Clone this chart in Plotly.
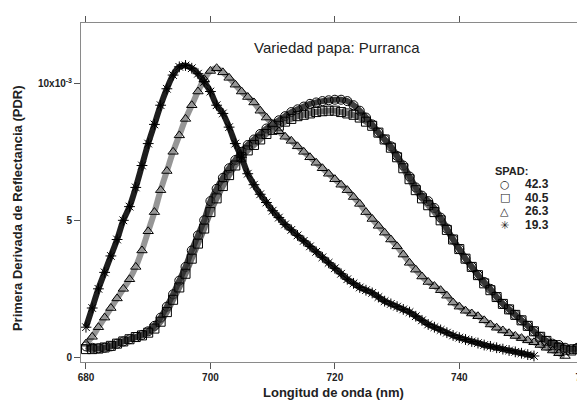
import plotly.graph_objects as go

# Wavelength (nm), 1 nm steps
wl = list(range(680, 761))

# First derivative of reflectance, in units of 1e-3
spad_42_3 = [0.4, 0.35, 0.33, 0.35, 0.4, 0.5, 0.58, 0.66, 0.74, 0.82,
             0.95, 1.15, 1.45, 1.85, 2.3, 2.8, 3.3, 3.9, 4.45, 5.0,
             5.7, 6.15, 6.55, 6.9, 7.2, 7.5, 7.75, 7.95, 8.15, 8.35,
             8.5, 8.65, 8.8, 8.95, 9.05, 9.15, 9.25, 9.3, 9.35, 9.38,
             9.4, 9.4, 9.35, 9.2, 9.0, 8.75, 8.5, 8.2, 7.95, 7.7,
             7.35, 7.0, 6.6, 6.2, 5.9, 5.7, 5.45, 5.1, 4.7, 4.3,
             3.95, 3.6, 3.3, 3.0, 2.75, 2.5, 2.2, 1.95, 1.75, 1.55,
             1.35, 1.15, 0.95, 0.75, 0.6, 0.5, 0.45, 0.35, 0.3, 0.35,
             0.45]

spad_40_5 = [0.3, 0.3, 0.32, 0.36, 0.42, 0.5, 0.58, 0.66, 0.74, 0.8,
             0.9, 1.05, 1.3, 1.65, 2.1, 2.55, 3.05, 3.6, 4.15, 4.7,
             5.3, 5.8, 6.25, 6.65, 7.0, 7.3, 7.55, 7.75, 7.95, 8.15,
             8.3, 8.45, 8.6, 8.7, 8.8, 8.85, 8.9, 8.95, 8.98, 9.0,
             9.0, 8.95, 8.9, 8.85, 8.75, 8.6, 8.45, 8.2, 7.95, 7.65,
             7.3, 6.9, 6.5, 6.1, 5.8, 5.55, 5.3, 5.0, 4.65, 4.3,
             3.95, 3.6, 3.3, 3.0, 2.7, 2.45, 2.2, 1.95, 1.75, 1.55,
             1.35, 1.15, 0.95, 0.75, 0.6, 0.45, 0.35, 0.28, 0.25, 0.3,
             0.35]

spad_26_3 = [0.5, 0.75, 1.1, 1.45, 1.8, 2.15, 2.5, 2.85, 3.3, 3.9,
             4.6, 5.3, 6.1, 6.8, 7.5, 8.1, 8.7, 9.2, 9.7, 10.15,
             10.45, 10.55, 10.4, 10.2, 9.95, 9.7, 9.5, 9.3, 9.0, 8.75,
             8.5, 8.25, 8.05, 7.9, 7.7, 7.5, 7.3, 7.1, 6.9, 6.7,
             6.5, 6.3, 6.1, 5.85, 5.6, 5.3, 5.05, 4.8, 4.55, 4.3,
             4.05, 3.75, 3.45, 3.2, 2.95, 2.75, 2.6, 2.45, 2.25, 2.0,
             1.85, 1.7, 1.6, 1.5, 1.35, 1.2, 1.08, 0.98, 0.88, 0.78,
             0.7, 0.62, 0.55, 0.45, 0.35, 0.25, 0.15, 0.05]

spad_19_3 = [1.1, 1.8, 2.5, 3.1, 3.7, 4.3, 5.0, 5.5, 6.2, 7.0,
             7.8, 8.5, 9.2, 9.8, 10.3, 10.6, 10.65, 10.55, 10.35, 10.05,
             9.7, 9.2, 8.9, 8.4, 7.8, 7.3, 6.7, 6.3, 5.95, 5.65,
             5.35, 5.1, 4.85, 4.65, 4.45, 4.25, 4.05, 3.85, 3.65, 3.45,
             3.25, 3.05, 2.85, 2.7, 2.55, 2.45, 2.35, 2.2, 2.05, 1.95,
             1.85, 1.75, 1.65, 1.5, 1.35, 1.2, 1.1, 1.0, 0.9, 0.8,
             0.72, 0.65, 0.58, 0.52, 0.45, 0.4, 0.35, 0.3, 0.25, 0.2,
             0.15, 0.1, 0.05]

series_labels = ["42.3", "40.5", "26.3", "19.3"]
series_values = [spad_42_3, spad_40_5, spad_26_3, spad_19_3]
series_symbols = ["circle-open", "square-open", "triangle-up-open", "asterisk-open"]
legend_glyphs = ["\u25CB", "\u25A1", "\u25B3", "\u2733"]
band_colors = ["rgba(15,15,15,0.8)", "rgba(50,50,50,0.7)",
               "rgba(80,80,80,0.6)", "rgba(5,5,5,0.9)"]

x_ticks = [680, 700, 720, 740, 760]
y_ticks = [0, 5, 10]
y_ticktext = ["0", "5", "10x10<sup>-3</sup>"]

FONT = "Arial, Liberation Sans, sans-serif"

fig = go.Figure()
for lab, vals, sym, col in zip(series_labels, series_values, series_symbols, band_colors):
    fig.add_trace(go.Scatter(
        x=wl[:len(vals)], y=vals, name=lab, mode="lines+markers",
        line=dict(color=col, width=6, shape="spline"),
        marker=dict(symbol=sym, size=9, color="black",
                    line=dict(color="black", width=1)),
        showlegend=False,
    ))

axis_common = dict(showline=True, linecolor="#8a8a8a", linewidth=1,
                   ticks="outside", tickcolor="#555", ticklen=6, tickwidth=1,
                   showgrid=False, zeroline=False, automargin=False,
                   ticklabeloverflow="allow",
                   tickfont=dict(family=FONT, size=10, color="#222", weight="bold"))

# The page body adds an 8 px offset; the figure is sized to fill the rest of the window.
fig.update_layout(
    width=577, height=393,
    margin=dict(l=73, r=0, t=15, b=39),
    paper_bgcolor="white", plot_bgcolor="white",
    xaxis=dict(range=[679.2, 760.2], tickvals=x_ticks, mirror="ticks",
               **axis_common),
    yaxis=dict(range=[-0.17, 12.2], tickvals=y_ticks, ticktext=y_ticktext,
               **axis_common),
    font=dict(family=FONT, color="#222"),
)

ann = [
    dict(text="Variedad papa: Purranca", x=0.508, y=0.929, xref="paper", yref="paper",
         showarrow=False, font=dict(family=FONT, size=15, color="#222"),
         xanchor="center", yanchor="middle"),
    dict(text="<b>Longitud de onda (nm)</b>", x=0.5, y=-0.09, xref="paper", yref="paper",
         showarrow=False, font=dict(family=FONT, size=13, color="#222"),
         xanchor="center", yanchor="middle"),
    dict(text="<b>Primera Derivada de Reflectancia (PDR)</b>", x=-0.127, y=0.454,
         xref="paper", yref="paper", textangle=-90, showarrow=False,
         font=dict(family=FONT, size=13, color="#222"),
         xanchor="center", yanchor="middle"),
    dict(text="<b>SPAD:</b>", x=0.817, y=0.564, xref="paper", yref="paper",
         showarrow=False, font=dict(family=FONT, size=11, color="#222"),
         xanchor="left", yanchor="middle"),
]
leg_y = [0.525, 0.485, 0.445, 0.404]
for g, lab, yy in zip(legend_glyphs, series_labels, leg_y):
    ann.append(dict(text=g, x=0.841, y=yy, xref="paper", yref="paper", showarrow=False,
                    font=dict(family="DejaVu Sans", size=11, color="#222"),
                    xanchor="center", yanchor="middle"))
    ann.append(dict(text="<b>" + lab + "</b>", x=0.877, y=yy, xref="paper", yref="paper",
                    showarrow=False, font=dict(family=FONT, size=12, color="#222"),
                    xanchor="left", yanchor="middle"))
fig.update_layout(annotations=ann)

fig.write_html("out.html")
